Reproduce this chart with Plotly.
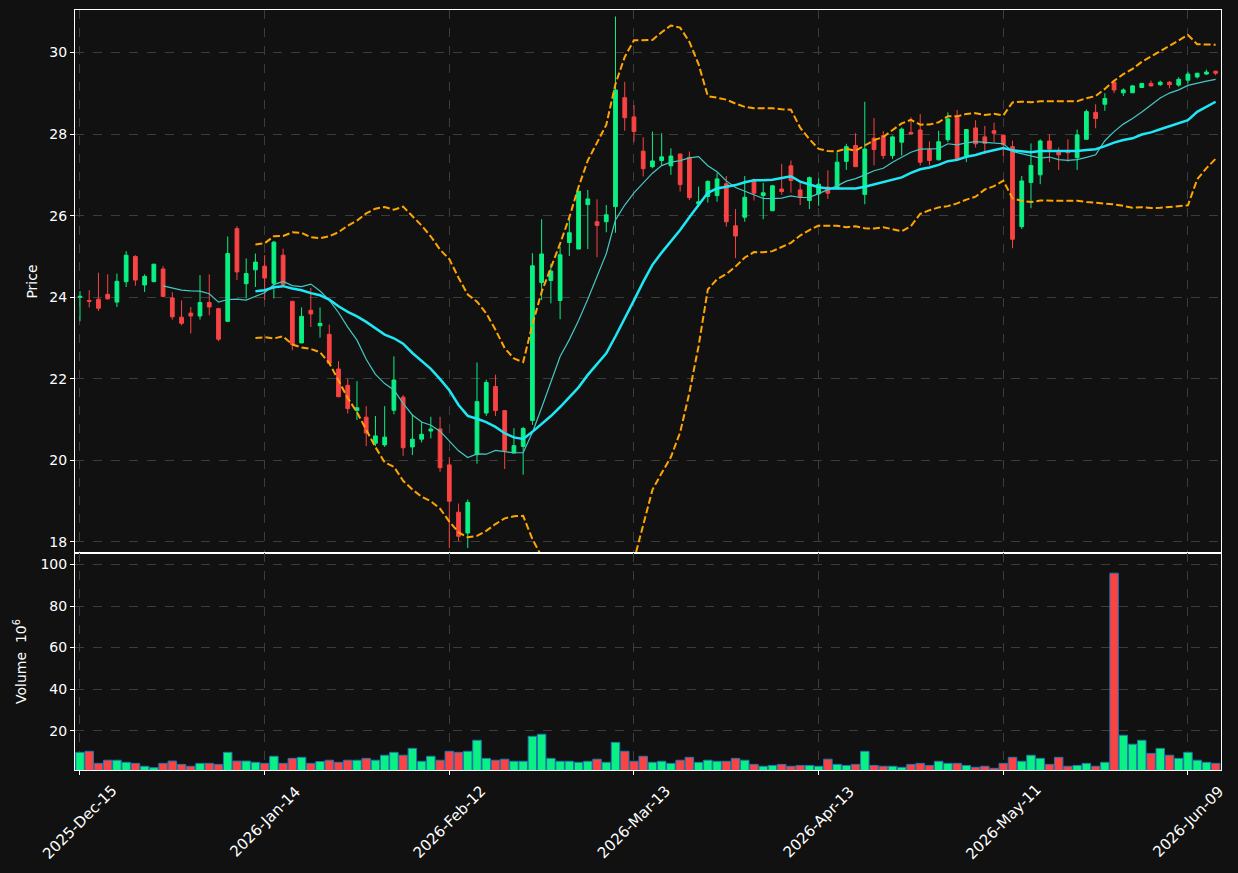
import pandas as pd
import plotly.graph_objects as go
from plotly.subplots import make_subplots

# ---------------- data ----------------
holidays = ["2025-12-25", "2026-01-01", "2026-01-19", "2026-02-16", "2026-04-03", "2026-05-25"]
dates = pd.bdate_range("2025-12-15", periods=124, freq="C", holidays=holidays)
date_str = [d.strftime("%Y-%m-%d") for d in dates]

opens = [24.00, 23.92, 23.95, 24.07, 23.88, 24.38, 25.00, 24.30, 24.38, 24.69,
         23.98, 23.51, 23.61, 23.54, 23.87, 23.72, 23.41, 25.68, 24.33, 24.67,
         24.76, 24.34, 25.03, 23.90, 22.88, 23.68, 23.30, 23.09, 22.24, 21.84,
         21.22, 21.06, 20.42, 20.38, 21.23, 21.55, 20.33, 20.52, 20.72, 20.77,
         19.89, 18.73, 18.22, 20.14, 21.16, 21.81, 21.22, 20.18, 20.34, 20.98,
         24.36, 24.41, 23.92, 25.34, 25.18, 26.27, 25.85, 25.85, 26.22, 28.89,
         28.42, 27.58, 27.20, 27.35, 27.22, 27.51, 27.43, 26.29, 26.47, 26.49,
         26.78, 25.75, 25.96, 26.87, 26.49, 26.12, 26.65, 27.22, 26.63, 26.37,
         26.53, 26.70, 26.66, 27.33, 27.72, 26.52, 27.90, 27.96, 27.47, 27.80,
         28.04, 28.10, 27.62, 27.37, 27.86, 28.41, 27.47, 28.15, 27.93, 28.08,
         27.97, 27.69, 25.73, 26.81, 27.00, 27.83, 27.57, 27.58, 27.42, 27.87,
         28.53, 28.73, 29.27, 29.01, 29.01, 29.14, 29.24, 29.21, 29.27, 29.20,
         29.32, 29.40, 29.47, 29.54]
highs = [24.15, 24.17, 24.60, 24.56, 24.58, 25.13, 25.03, 24.56, 24.81, 24.76,
         24.12, 23.92, 23.76, 24.54, 24.56, 23.74, 25.49, 25.74, 24.95, 25.07,
         25.03, 25.38, 25.19, 23.90, 23.75, 24.23, 23.75, 23.33, 22.43, 22.00,
         21.94, 21.33, 21.09, 21.33, 22.55, 21.60, 21.13, 20.95, 21.07, 21.07,
         20.08, 18.94, 19.04, 22.40, 21.98, 22.10, 21.22, 20.79, 20.82, 25.08,
         25.91, 24.82, 25.24, 25.98, 26.60, 26.63, 26.40, 26.26, 30.88, 29.28,
         28.71, 27.92, 28.06, 28.02, 27.65, 27.51, 27.57, 26.71, 26.86, 27.04,
         26.97, 26.16, 26.97, 26.91, 26.80, 26.75, 27.27, 27.35, 26.81, 26.96,
         26.91, 27.11, 27.55, 27.76, 28.02, 28.79, 28.39, 28.07, 27.96, 28.16,
         28.41, 28.49, 27.82, 28.08, 28.53, 28.59, 28.12, 28.34, 28.20, 28.28,
         28.00, 27.84, 26.97, 27.77, 27.87, 27.99, 27.67, 27.87, 28.11, 28.60,
         28.73, 29.00, 29.27, 29.12, 29.20, 29.24, 29.31, 29.31, 29.30, 29.39,
         29.53, 29.50, 29.58, 29.55]
lows = [23.41, 23.75, 23.66, 23.94, 23.76, 24.25, 24.28, 24.13, 24.38, 24.00,
        23.45, 23.31, 23.11, 23.45, 23.56, 22.92, 23.39, 24.42, 23.97, 24.25,
        23.93, 23.97, 24.25, 22.70, 22.87, 23.27, 23.01, 22.38, 21.56, 21.15,
        20.99, 20.35, 20.35, 20.33, 21.13, 20.11, 20.13, 20.44, 20.54, 19.72,
        17.85, 18.02, 17.85, 19.92, 21.09, 21.09, 19.79, 20.18, 19.65, 20.87,
        23.93, 23.85, 23.46, 25.01, 25.18, 25.18, 24.98, 25.59, 25.58, 28.08,
        27.81, 26.96, 27.16, 27.22, 27.00, 26.59, 26.38, 26.22, 26.32, 26.34,
        25.73, 24.96, 25.85, 26.37, 25.91, 26.12, 26.51, 26.56, 26.26, 26.16,
        26.24, 26.41, 26.66, 27.12, 27.20, 26.28, 27.23, 27.39, 27.39, 27.47,
        28.00, 27.23, 27.23, 27.35, 27.80, 27.35, 27.31, 27.67, 27.51, 27.80,
        27.46, 25.20, 25.67, 26.18, 26.77, 27.31, 27.12, 27.32, 27.12, 27.87,
        28.14, 28.57, 29.00, 28.93, 29.01, 29.14, 29.16, 29.18, 29.12, 29.16,
        29.24, 29.36, 29.45, 29.44]
closes = [24.02, 23.90, 23.73, 23.96, 24.39, 25.03, 24.42, 24.51, 24.81, 24.02,
          23.52, 23.36, 23.54, 23.87, 23.76, 22.97, 25.07, 24.62, 24.58, 24.86,
          24.47, 25.35, 24.31, 22.84, 23.53, 23.59, 23.36, 22.38, 21.56, 21.27,
          21.29, 20.67, 20.60, 20.57, 21.97, 20.31, 20.52, 20.64, 20.77, 19.82,
          19.00, 18.14, 18.97, 21.44, 21.91, 21.22, 20.24, 20.36, 20.78, 24.77,
          25.06, 24.64, 25.04, 25.58, 26.60, 26.41, 25.76, 26.02, 29.08, 28.40,
          28.06, 27.15, 27.34, 27.44, 27.46, 26.76, 26.44, 26.34, 26.84, 26.90,
          25.85, 25.50, 26.45, 26.55, 26.56, 26.73, 26.59, 26.86, 26.45, 26.93,
          26.77, 26.55, 27.31, 27.69, 27.20, 27.63, 27.62, 27.47, 27.93, 28.12,
          28.00, 27.31, 27.35, 27.81, 28.37, 27.37, 28.11, 27.76, 27.77, 28.02,
          27.74, 25.42, 26.85, 27.23, 27.83, 27.63, 27.49, 27.54, 27.98, 28.55,
          28.38, 28.87, 29.08, 29.08, 29.18, 29.24, 29.18, 29.27, 29.21, 29.34,
          29.47, 29.49, 29.52, 29.49]
volumes = [9.6, 10.1, 4.3, 5.8, 5.8, 4.8, 4.3, 2.9, 2.2, 4.3,
           5.4, 3.8, 2.9, 4.3, 4.3, 3.8, 9.6, 5.4, 5.4, 4.8,
           4.3, 7.7, 4.3, 6.7, 7.2, 4.3, 5.2, 5.8, 4.8, 5.8,
           5.8, 6.7, 5.8, 8.2, 9.6, 8.2, 11.5, 5.3, 7.7, 5.8,
           10.1, 9.6, 10.1, 15.4, 6.7, 5.8, 6.3, 5.3, 5.3, 17.3,
           18.3, 6.7, 5.3, 5.3, 4.8, 5.3, 6.3, 4.8, 14.4, 10.1,
           5.3, 7.7, 4.8, 5.3, 4.3, 5.8, 7.2, 4.8, 5.8, 5.3,
           5.3, 6.7, 5.8, 3.8, 2.9, 3.3, 3.8, 2.9, 3.3, 3.3,
           2.9, 6.3, 3.8, 3.3, 3.8, 10.1, 3.3, 2.9, 2.9, 2.4,
           3.8, 4.3, 3.3, 5.3, 4.3, 4.3, 3.3, 2.4, 2.9, 1.9,
           4.3, 7.2, 5.3, 8.2, 6.7, 3.8, 7.2, 2.9, 3.3, 4.3,
           2.9, 4.8, 95.8, 17.8, 13.5, 15.4, 9.1, 11.5, 8.2, 6.7,
           9.6, 5.8, 4.8, 4.3]

tick_idx = [0, 20, 40, 60, 80, 100, 120]
tick_vals = [date_str[i] for i in tick_idx]
tick_text = [dates[i].strftime("%Y-%b-%d") for i in tick_idx]

# ---------------- derived indicators ----------------
cs = pd.Series(closes)
ma10 = cs.rolling(10).mean()
ma20 = cs.rolling(20).mean()
sd20 = cs.rolling(20).std(ddof=0)
bb_up = ma20 + 2 * sd20
bb_lo = ma20 - 2 * sd20

UP = "#0af082"
DOWN = "#fa4343"
BG = "#111111"
GRID = "#3c3c3c"
FONT = dict(color="white", size=14, family="DejaVu Sans")
XFONT = dict(color="white", size=15, family="DejaVu Sans")

fig = make_subplots(rows=2, cols=1, shared_xaxes=True, vertical_spacing=0)

fig.add_trace(go.Candlestick(
    x=date_str, open=opens, high=highs, low=lows, close=closes,
    increasing=dict(line=dict(color=UP, width=1), fillcolor=UP),
    decreasing=dict(line=dict(color=DOWN, width=1), fillcolor=DOWN),
    whiskerwidth=0, hoverinfo="skip"), row=1, col=1)

fig.add_trace(go.Scatter(x=date_str, y=ma10, mode="lines",
                         line=dict(color="#45c8c0", width=1.2)), row=1, col=1)
fig.add_trace(go.Scatter(x=date_str, y=ma20, mode="lines",
                         line=dict(color="#1ee8f5", width=2.5)), row=1, col=1)
fig.add_trace(go.Scatter(x=date_str, y=bb_up, mode="lines",
                         line=dict(color="#ffa500", width=2, dash="7px,3px")), row=1, col=1)
fig.add_trace(go.Scatter(x=date_str, y=bb_lo, mode="lines",
                         line=dict(color="#ffa500", width=2, dash="7px,3px")), row=1, col=1)

vol_colors = [UP if c >= o else DOWN for o, c in zip(opens, closes)]
fig.add_trace(go.Bar(x=date_str, y=volumes, width=0.92,
                     marker=dict(color=vol_colors, line=dict(color="#1f77b4", width=1))),
              row=2, col=1)

axis_common = dict(showline=True, linecolor="white", linewidth=1, mirror=True,
                   showgrid=True, gridcolor=GRID, griddash="dash", gridwidth=1,
                   zeroline=False, tickfont=FONT,
                   ticks="outside", tickcolor="white", ticklen=4)

xr = [-0.54, 123.58]
fig.update_xaxes(type="category", range=xr, tickvals=tick_vals, ticktext=tick_text,
                 **axis_common)
fig.update_xaxes(showticklabels=False, ticks="", rangeslider_visible=False, row=1, col=1)
fig.update_xaxes(showticklabels=False, row=2, col=1)

fig.update_yaxes(**axis_common)
fig.update_yaxes(range=[17.73, 31.04], tickvals=[18, 20, 22, 24, 26, 28, 30],
                 title=dict(text="Price", font=FONT, standoff=8),
                 row=1, col=1)
fig.update_yaxes(range=[1.1, 105.5], tickvals=[20, 40, 60, 80, 100],
                 title=dict(text="Volume  10<sup>6</sup>", font=FONT, standoff=10),
                 row=2, col=1)

# rotated date labels centred on their ticks
for tv, tt in zip(tick_vals, tick_text):
    fig.add_annotation(x=tv, xref="x2", y=-0.068, yref="paper", text=tt,
                       textangle=-45, showarrow=False, xanchor="center",
                       yanchor="middle", font=XFONT)

vol_frac = (770 - 553) / 760
fig.update_layout(
    width=1238, height=873,
    margin=dict(l=75, r=17, t=10, b=103),
    paper_bgcolor=BG, plot_bgcolor=BG,
    showlegend=False, boxgap=0.42,
    yaxis=dict(domain=[vol_frac, 1]),
    yaxis2=dict(domain=[0, vol_frac]),
    xaxis_rangeslider_visible=False,
)

fig.write_html("out.html")
